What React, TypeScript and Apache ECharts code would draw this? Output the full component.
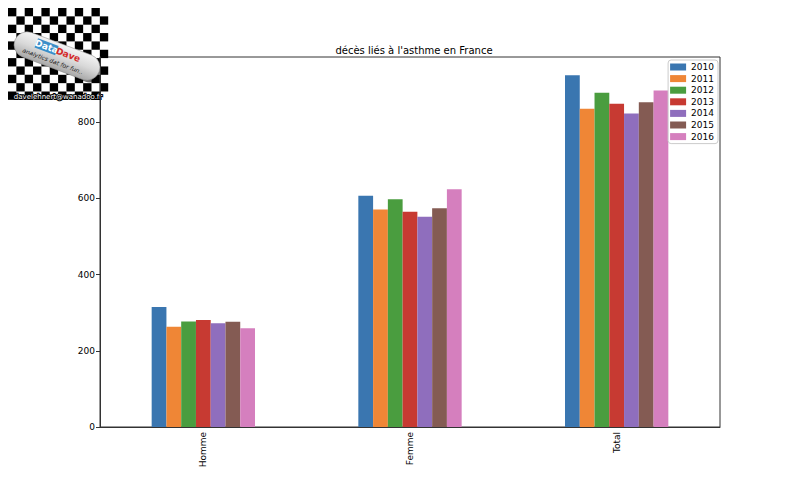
import React, { useEffect, useRef } from "react";
import * as echarts from "echarts";

const categories = ["Homme", "Femme", "Total"];
const years = ["2010", "2011", "2012", "2013", "2014", "2015", "2016"];
const v2010 = [315, 607, 923];
const v2011 = [263, 571, 835];
const v2012 = [277, 598, 877];
const v2013 = [281, 565, 848];
const v2014 = [272, 552, 823];
const v2015 = [276, 574, 852];
const v2016 = [259, 624, 883];
const seriesValues = [v2010, v2011, v2012, v2013, v2014, v2015, v2016];
const yTicks = [0, 200, 400, 600, 800];
const yMax = 971;
const colors = ["#3a76b0", "#ef8636", "#4a9d3f", "#c73a32", "#8f6ebd", "#845b53", "#d57fbe"];

const FONT = "DejaVu Sans";

function buildLogo(): any[] {
  const els: any[] = [];
  const size = 8.35;
  const x0 = 8;
  const y0 = 8;
  const cols = 12;
  const rows = 11;
  for (let r = 0; r < rows; r++) {
    for (let c = 0; c < cols; c++) {
      if ((r + c) % 2 === 0) {
        els.push({
          type: "rect",
          shape: { x: x0 + c * size, y: y0 + r * size, width: size, height: size },
          style: { fill: "#000" },
          silent: true,
        });
      }
    }
  }
  els.push({
    type: "group",
    x: 57,
    y: 56,
    rotation: -0.36,
    children: [
      {
        type: "rect",
        shape: { x: 18, y: -6, width: 28, height: 20, r: 10 },
        style: { fill: "rgba(0,0,0,0.55)" },
      },
      {
        type: "rect",
        shape: { x: -45, y: -13, width: 90, height: 26, r: 13 },
        style: {
          fill: new echarts.graphic.LinearGradient(0, 0, 0, 1, [
            { offset: 0, color: "#f4f4f4" },
            { offset: 0.5, color: "#d8d8d8" },
            { offset: 1, color: "#a8a8a8" },
          ]),
          stroke: "#888",
          lineWidth: 0.5,
        },
      },
      {
        type: "rect",
        shape: { x: -24, y: -10, width: 22, height: 10 },
        style: { fill: "#3b8fc9" },
      },
      {
        type: "text",
        x: -13,
        y: -5,
        style: {
          text: "Data",
          fill: "#fff",
          font: "bold 9px " + FONT,
          align: "center",
          verticalAlign: "middle",
        },
      },
      {
        type: "text",
        x: 10,
        y: -5,
        style: {
          text: "Dave",
          fill: "#d42a2a",
          font: "bold 9px " + FONT,
          align: "center",
          verticalAlign: "middle",
        },
      },
      {
        type: "text",
        x: -2,
        y: 6,
        style: {
          text: "analytics dat for fun..",
          fill: "#222",
          font: "italic 6px " + FONT,
          align: "center",
          verticalAlign: "middle",
        },
      },
    ],
  });
  els.push({
    type: "text",
    x: 58,
    y: 97,
    style: {
      text: "davelehnert@wanadoo.fr",
      fill: "#fff",
      font: "7px " + FONT,
      align: "center",
      verticalAlign: "middle",
      stroke: "#000",
      lineWidth: 2,
    },
  });
  return els;
}

export default function App() {
  const ref = useRef<HTMLDivElement>(null);
  useEffect(() => {
    document.body.style.margin = "0";
    const chart = echarts.init(ref.current!, null, { renderer: "svg" });
    chart.setOption({
      animation: false,
      backgroundColor: "#fff",
      color: colors,
      title: {
        text: "décès liés à l'asthme en France",
        left: 409,
        top: 40,
        textAlign: "center",
        textStyle: { fontFamily: FONT, fontSize: 10, fontWeight: "normal", color: "#000" },
      },
      legend: {
        orient: "vertical",
        right: 82,
        top: 60,
        data: years,
        icon: "rect",
        itemWidth: 16,
        itemHeight: 7,
        itemGap: 1.6,
        padding: [2, 4, 2, 2],
        borderColor: "#cccccc",
        borderWidth: 1,
        borderRadius: 3,
        backgroundColor: "rgba(255,255,255,0.8)",
        textStyle: { fontFamily: FONT, fontSize: 9, color: "#000", lineHeight: 10 },
      },
      grid: {
        left: 100,
        right: 80,
        top: 57,
        bottom: 53,
        show: true,
        borderColor: "#333",
        borderWidth: 1,
        backgroundColor: "transparent",
      },
      xAxis: {
        type: "category",
        data: categories,
        axisLine: { lineStyle: { color: "#333", width: 1 } },
        axisTick: { alignWithLabel: true, length: 4, lineStyle: { color: "#333" } },
        axisLabel: { rotate: 90, margin: 5, fontFamily: FONT, fontSize: 9, color: "#000" },
      },
      yAxis: {
        type: "value",
        min: 0,
        max: yMax,
        interval: 200,
        splitLine: { show: false },
        axisLine: { show: true, lineStyle: { color: "#333", width: 1 } },
        axisTick: { show: true, length: 4, customValues: yTicks, lineStyle: { color: "#333" } },
        axisLabel: { margin: 5, customValues: yTicks, fontFamily: FONT, fontSize: 9, color: "#000" },
      },
      series: years.map((y, i) => ({
        name: y,
        type: "bar",
        data: seriesValues[i],
        barGap: "0%",
        barCategoryGap: "50%",
        itemStyle: { color: colors[i] },
      })),
      graphic: buildLogo(),
    });
    return () => chart.dispose();
  }, []);
  return <div ref={ref} style={{ position: "absolute", left: 0, top: 0, width: 800, height: 480 }} />;
}
